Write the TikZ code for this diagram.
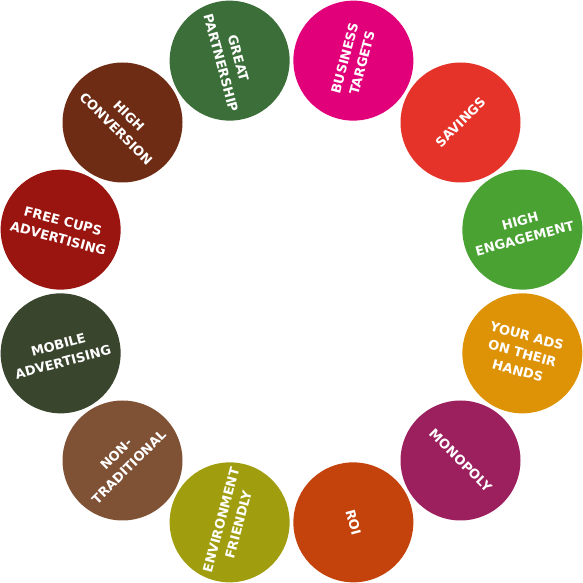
\documentclass[tikz,border=0pt]{standalone}
\usepackage{fontspec}
\setsansfont{DejaVu Sans}
\definecolor{cBT}{HTML}{E2007A}
\definecolor{cSV}{HTML}{E5332A}
\definecolor{cHE}{HTML}{4AA233}
\definecolor{cYA}{HTML}{DE9306}
\definecolor{cMO}{HTML}{9C1F5E}
\definecolor{cRO}{HTML}{C4430C}
\definecolor{cEF}{HTML}{A09E0E}
\definecolor{cNT}{HTML}{7F5135}
\definecolor{cMA}{HTML}{3A452E}
\definecolor{cFC}{HTML}{9A1410}
\definecolor{cHC}{HTML}{6E2C15}
\definecolor{cGP}{HTML}{3B6E38}
\begin{document}
\begin{tikzpicture}[x=1pt,y=1pt,
  ball/.style={circle, minimum size=120pt, inner sep=0pt, fill=#1, text=white,
    font=\sffamily\bfseries\fontsize{13}{18}\selectfont, align=center}]
\useasboundingbox (0,0) rectangle (583,583);
\begin{scope}[shift={(291.5,291.5)}]
\node[ball=cBT, rotate=75]  (bt) at (75:239)  {BUSINESS\\TARGETS};
\node[ball=cSV, rotate=45]  (sv) at (45:239)  {SAVINGS};
\node[ball=cHE, rotate=15]  (he) at (15:239)  {HIGH\\ENGAGEMENT};
\node[ball=cYA, rotate=-15] (ya) at (-15:239) {YOUR ADS\\ON THEIR\\HANDS};
\node[ball=cMO, rotate=-45] (mo) at (-45:239) {MONOPOLY};
\node[ball=cRO, rotate=-75] (ro) at (-75:239) {ROI};
\node[ball=cEF, rotate=75]  (ef) at (255:239) {ENVIRONMENT\\FRIENDLY};
\node[ball=cNT, rotate=45]  (nt) at (225:239) {NON-\\TRADITIONAL};
\node[ball=cMA, rotate=15]  (ma) at (195:239) {MOBILE\\ADVERTISING};
\node[ball=cFC, rotate=-15] (fc) at (165:239) {FREE CUPS\\ADVERTISING};
\node[ball=cHC, rotate=-45] (hc) at (135:239) {HIGH\\CONVERSION};
\node[ball=cGP, rotate=-75] (gp) at (105:239) {GREAT\\PARTNERSHIP};
\end{scope}
\end{tikzpicture}
\end{document}
